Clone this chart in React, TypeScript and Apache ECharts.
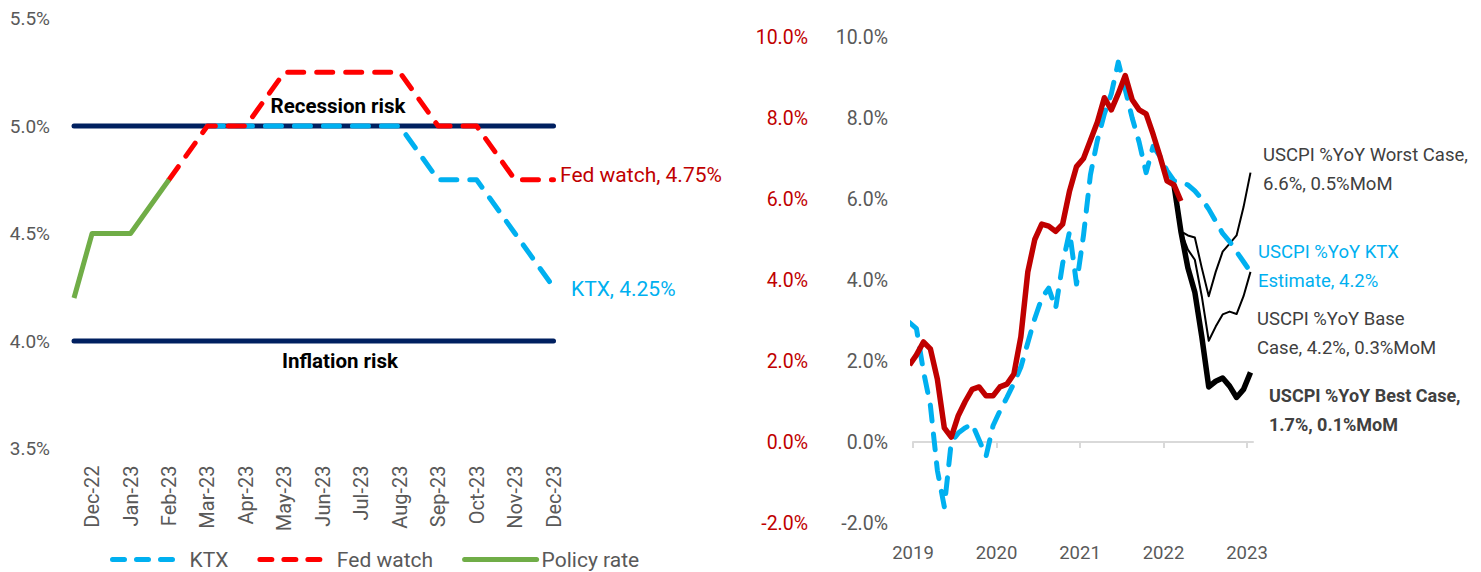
import React, { useEffect, useRef } from "react";
import * as echarts from "echarts";

// ---------- Left panel data ----------
const MONTHS = ["Dec-22", "Jan-23", "Feb-23", "Mar-23", "Apr-23", "May-23", "Jun-23", "Jul-23", "Aug-23", "Sep-23", "Oct-23", "Nov-23", "Dec-23"];
const LEFT_X_MIN = -0.47;
const POLICY_X = [-0.47, 0, 1, 2];
const POLICY_RATE = [4.2, 4.5, 4.5, 4.75];
const FED_START = 2;
const FED_WATCH = [4.75, 5.0, 5.0, 5.25, 5.25, 5.25, 5.25, 5.0, 5.0, 4.75, 4.75];
const KTX_START = 3;
const KTX_RATE = [5.0, 5.0, 5.0, 5.0, 5.0, 5.0, 4.75, 4.75, 4.5, 4.25];
const RECESSION_LEVEL = 5.0;
const INFLATION_LEVEL = 4.0;

// ---------- Right panel data (monthly, position = month index from Jan-2019 + 0.5) ----------
const YEARS = ["2019", "2020", "2021", "2022", "2023"];
const CPI_ACTUAL_START = -0.5;
const CPI_ACTUAL = [1.9, 2.15, 2.47, 2.3, 1.55, 0.35, 0.12, 0.65, 1.0, 1.3, 1.36, 1.14, 1.14, 1.36, 1.43, 1.68, 2.6, 4.2, 5.0, 5.38, 5.33, 5.2, 5.38, 6.2, 6.8, 7.0, 7.45, 7.9, 8.5, 8.2, 8.6, 9.05, 8.45, 8.2, 8.1, 7.6, 7.05, 6.45, 6.35, 5.95];
const CPI_KTX_START = -0.5;
const CPI_KTX = [2.95, 2.8, 1.75, 0.9, -0.7, -1.6, 0.0, 0.22, 0.35, 0.45, 0.05, -0.35, 0.4, 0.77, 1.1, 1.45, 1.85, 2.45, 3.05, 3.55, 3.8, 3.3, 4.4, 5.2, 3.9, 5.1, 6.6, 7.45, 8.1, 8.6, 9.38, 8.7, 8.0, 7.4, 6.65, 7.3, 7.05, 6.7, 6.45, 6.4, 6.35, 6.2, 6.0, 5.75, 5.45, 5.15, 4.95, 4.7, 4.45, 4.2];
const SCEN_START = 37.5;
const CPI_WORST = [6.35, 5.2, 5.1, 5.05, 4.3, 3.6, 4.2, 4.7, 4.9, 5.1, 5.8, 6.65];
const CPI_BASE = [6.35, 5.2, 4.75, 4.5, 3.6, 2.5, 2.85, 3.15, 3.22, 3.16, 3.6, 4.2];
const CPI_BEST = [6.35, 5.2, 4.3, 3.7, 2.6, 1.36, 1.5, 1.58, 1.38, 1.1, 1.3, 1.72];
const RIGHT_X_MAX = 48.86;

const FONT = "Roboto, 'Liberation Sans', sans-serif";
const GREY = "#595959";
const DARK = "#404040";
const DASH = [16, 13];
const LEGEND_DASH = [12, 12];

const toPairs = (start: number, vals: number[]) => vals.map((v, i) => [start + i, v]);

function buildOption(): any {
  const pctFmt = (v: number) => v.toFixed(1) + "%";
  const hLine = (level: number) => ({
    type: "line",
    xAxisIndex: 0,
    yAxisIndex: 0,
    symbol: "none",
    silent: true,
    z: 1,
    data: [[LEFT_X_MIN, level], [MONTHS.length - 1, level]],
    lineStyle: { color: "#002060", width: 5, cap: "round" },
  });
  return {
    animation: false,
    backgroundColor: "#ffffff",
    grid: [
      { left: 74, top: 18.5, width: 479.5, height: 430, containLabel: false, outerBoundsMode: "none" },
      { left: 913, top: 37, width: 340, height: 486, containLabel: false, outerBoundsMode: "none" },
    ],
    xAxis: [
      {
        gridIndex: 0,
        type: "value",
        min: LEFT_X_MIN,
        max: MONTHS.length - 1,
        axisLine: { show: false },
        axisTick: { show: false },
        splitLine: { show: false },
        axisLabel: {
          customValues: MONTHS.map((_, i) => i),
          formatter: (v: number) => MONTHS[Math.round(v)] ?? "",
          rotate: 90,
          margin: 17,
          fontSize: 20,
          color: GREY,
          fontFamily: FONT,
        },
      },
      {
        gridIndex: 1,
        type: "value",
        min: 0,
        max: RIGHT_X_MAX,
        position: "bottom",
        axisLine: { show: true, onZero: true, lineStyle: { color: "#D9D9D9", width: 2 } },
        axisTick: { show: true, customValues: YEARS.map((_, i) => i * 12), length: 6, lineStyle: { color: "#D9D9D9", width: 2 } },
        axisLabel: { show: false },
        splitLine: { show: false },
      },
      {
        gridIndex: 1,
        type: "value",
        min: 0,
        max: RIGHT_X_MAX,
        position: "bottom",
        axisLine: { show: false, onZero: false },
        axisTick: { show: false },
        splitLine: { show: false },
        axisLabel: {
          customValues: YEARS.map((_, i) => i * 12),
          formatter: (v: number) => YEARS[Math.round(v / 12)] ?? "",
          margin: 20,
          fontSize: 18.5,
          color: GREY,
          fontFamily: FONT,
        },
      },
    ],
    yAxis: [
      {
        gridIndex: 0,
        type: "value",
        position: "left",
        min: 3.5,
        max: 5.5,
        interval: 0.5,
        axisLine: { show: false },
        axisTick: { show: false },
        splitLine: { show: false },
        axisLabel: { formatter: pctFmt, margin: 24, fontSize: 19, color: GREY, fontFamily: FONT },
      },
      {
        gridIndex: 1,
        type: "value",
        position: "left",
        offset: 80,
        min: -2,
        max: 10,
        interval: 2,
        axisLine: { show: false },
        axisTick: { show: false },
        splitLine: { show: false },
        axisLabel: { formatter: pctFmt, margin: 25, fontSize: 19.5, color: "#C00000", fontFamily: FONT },
      },
      {
        gridIndex: 1,
        type: "value",
        position: "left",
        offset: 0,
        min: -2,
        max: 10,
        interval: 2,
        axisLine: { show: false },
        axisTick: { show: false },
        splitLine: { show: false },
        axisLabel: { formatter: pctFmt, margin: 25, fontSize: 19.5, color: GREY, fontFamily: FONT },
      },
    ],
    legend: {
      left: 110,
      top: 549,
      padding: 0,
      itemWidth: 72,
      itemHeight: 14,
      itemGap: 29,
      data: [
        { name: "KTX", lineStyle: { type: LEGEND_DASH } },
        { name: "Fed watch", lineStyle: { type: LEGEND_DASH } },
        { name: "Policy rate" },
      ],
      itemStyle: { opacity: 0, color: "rgba(0,0,0,0)", borderColor: "rgba(0,0,0,0)", borderWidth: 0 },
      lineStyle: { width: 5, cap: "round" },
      textStyle: { fontSize: 21, color: GREY, fontFamily: FONT },
    },
    series: [
      hLine(RECESSION_LEVEL),
      hLine(INFLATION_LEVEL),
      {
        name: "KTX",
        type: "line",
        xAxisIndex: 0,
        yAxisIndex: 0,
        symbol: "none",
        z: 2,
        data: toPairs(KTX_START, KTX_RATE),
        itemStyle: { color: "#00B0F0" },
        lineStyle: { color: "#00B0F0", width: 5, type: DASH, cap: "round", join: "round" },
      },
      {
        name: "Fed watch",
        type: "line",
        xAxisIndex: 0,
        yAxisIndex: 0,
        symbol: "none",
        z: 3,
        data: toPairs(FED_START, FED_WATCH),
        itemStyle: { color: "#FF0000" },
        lineStyle: { color: "#FF0000", width: 5, type: DASH, cap: "round", join: "round" },
      },
      {
        name: "Policy rate",
        type: "line",
        xAxisIndex: 0,
        yAxisIndex: 0,
        symbol: "none",
        z: 4,
        data: POLICY_X.map((x, i) => [x, POLICY_RATE[i]]),
        itemStyle: { color: "#70AD47" },
        lineStyle: { color: "#70AD47", width: 5, join: "round" },
      },
      {
        name: "USCPI Worst",
        type: "line",
        xAxisIndex: 1,
        yAxisIndex: 2,
        symbol: "none",
        z: 2,
        data: toPairs(SCEN_START, CPI_WORST),
        lineStyle: { color: "#000000", width: 2, join: "round" },
      },
      {
        name: "USCPI Base",
        type: "line",
        xAxisIndex: 1,
        yAxisIndex: 2,
        symbol: "none",
        z: 2,
        data: toPairs(SCEN_START, CPI_BASE),
        lineStyle: { color: "#000000", width: 2, join: "round" },
      },
      {
        name: "USCPI Best",
        type: "line",
        xAxisIndex: 1,
        yAxisIndex: 2,
        symbol: "none",
        z: 2,
        data: toPairs(SCEN_START, CPI_BEST),
        lineStyle: { color: "#000000", width: 5.5, join: "round" },
      },
      {
        name: "USCPI KTX",
        type: "line",
        xAxisIndex: 1,
        yAxisIndex: 2,
        symbol: "none",
        z: 3,
        data: toPairs(CPI_KTX_START, CPI_KTX),
        lineStyle: { color: "#00B0F0", width: 5, type: DASH, cap: "round", join: "round" },
      },
      {
        name: "USCPI",
        type: "line",
        xAxisIndex: 1,
        yAxisIndex: 1,
        symbol: "none",
        z: 4,
        data: toPairs(CPI_ACTUAL_START, CPI_ACTUAL),
        lineStyle: { color: "#C00000", width: 5.5, join: "round" },
      },
    ],
    graphic: [
      { type: "text", x: 338, y: 106, style: { text: "Recession risk", font: `bold 20.5px ${FONT}`, fill: "#000", align: "center", verticalAlign: "middle", textAlign: "center", textVerticalAlign: "middle" } },
      { type: "text", x: 340, y: 361, style: { text: "Inflation risk", font: `bold 20.5px ${FONT}`, fill: "#000", align: "center", verticalAlign: "middle", textAlign: "center", textVerticalAlign: "middle" } },
      { type: "text", x: 560, y: 175, style: { text: "Fed watch, 4.75%", font: `21px ${FONT}`, fill: "#C00000", verticalAlign: "middle", textVerticalAlign: "middle" } },
      { type: "text", x: 571, y: 289, style: { text: "KTX, 4.25%", font: `21px ${FONT}`, fill: "#00B0F0", verticalAlign: "middle", textVerticalAlign: "middle" } },
      { type: "text", x: 1263, y: 140, style: { text: "USCPI %YoY Worst Case,\n6.6%, 0.5%MoM", font: `18.5px ${FONT}`, lineHeight: 29, fill: DARK, verticalAlign: "top", textVerticalAlign: "top" } },
      { type: "text", x: 1258, y: 237.5, style: { text: "USCPI %YoY KTX\nEstimate, 4.2%", font: `18.5px ${FONT}`, lineHeight: 29, fill: "#00B0F0", verticalAlign: "top", textVerticalAlign: "top" } },
      { type: "text", x: 1257, y: 304.5, style: { text: "USCPI %YoY Base\nCase, 4.2%, 0.3%MoM", font: `18.5px ${FONT}`, lineHeight: 29, fill: DARK, verticalAlign: "top", textVerticalAlign: "top" } },
      { type: "text", x: 1269, y: 380.5, style: { text: "USCPI %YoY Best Case,\n1.7%, 0.1%MoM", font: `bold 18px ${FONT}`, lineHeight: 29, fill: DARK, verticalAlign: "top", textVerticalAlign: "top" } },
    ],
  };
}

export default function App() {
  const ref = useRef<HTMLDivElement>(null);
  useEffect(() => {
    if (!ref.current) return;
    const chart = echarts.init(ref.current, null, { renderer: "svg" });
    chart.setOption(buildOption());
    return () => chart.dispose();
  }, []);
  return (
    <div
      ref={ref}
      style={{ position: "absolute", left: 0, top: 0, width: 1481, height: 572, background: "#ffffff" }}
    />
  );
}
